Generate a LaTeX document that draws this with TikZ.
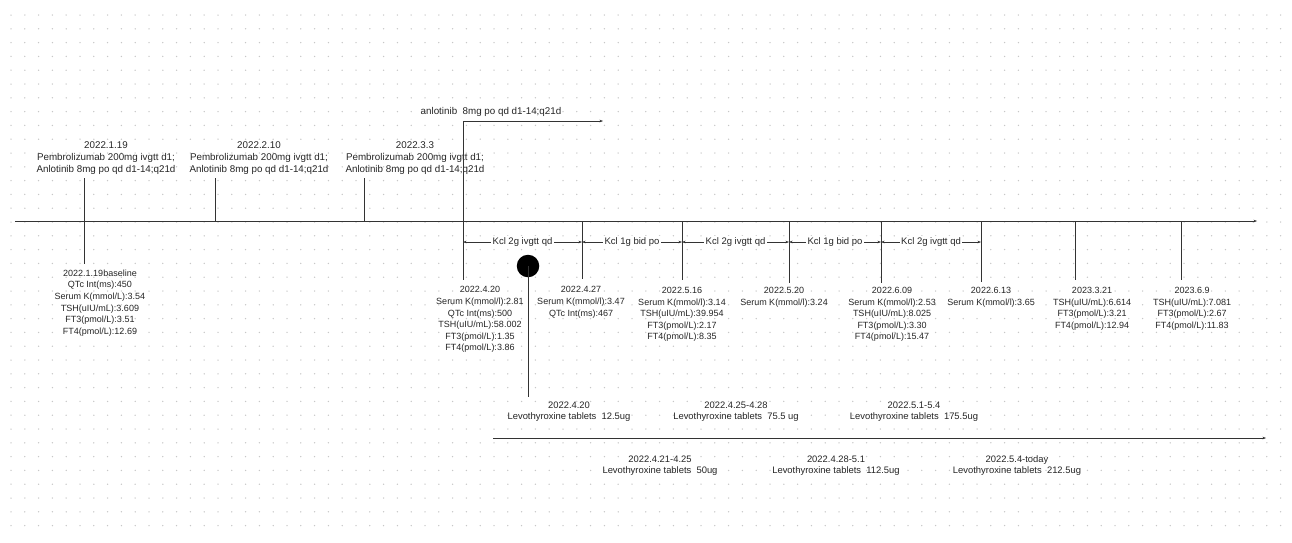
\documentclass[tikz,border=0pt]{standalone}
\usepackage{fontspec}
\setmainfont{Liberation Sans}
\usetikzlibrary{arrows.meta}
\begin{document}
\begin{tikzpicture}[x=1pt,y=-1pt,
  ln/.style={draw=black!80, line width=0.6pt},
  tipend/.style={-{Stealth[length=3.5pt,width=2.6pt]}},
  tipboth/.style={{Stealth[length=3.5pt,width=2.6pt]}-{Stealth[length=3.5pt,width=2.6pt]}},
  toptxt/.style={align=center, font=\fontsize{9.8}{12}\selectfont, inner sep=0pt, text=black!85},
  dat/.style={align=center, font=\fontsize{9}{11.6}\selectfont, inner sep=0pt, anchor=north, text=black!85},
  kcl/.style={font=\fontsize{9.5}{11}\selectfont, fill=white, inner sep=1.5pt, text=black!85},
  levo/.style={align=center, font=\fontsize{9.4}{11.2}\selectfont, inner sep=0pt, text=black!85},
]
\useasboundingbox (0,0) rectangle (1292,542);
\fill[white] (0,0) rectangle (1292,542);
\foreach \i in {0,...,92} \foreach \j in {0,...,37} \fill[black!22] (11+13.8*\i, 15+13.8*\j) circle (0.75);

% main axis
\coordinate (axL) at (15,221);
\coordinate (axR) at (1257,221);
\draw[ln,tipend] (axL) -- (axR);

% top treatment blocks
\node[toptxt] (t1) at (106,158) {2022.1.19\\Pembrolizumab 200mg ivgtt d1;\\Anlotinib 8mg po qd d1-14;q21d};
\node[toptxt] (t2) at (259,158) {2022.2.10\\Pembrolizumab 200mg ivgtt d1;\\Anlotinib 8mg po qd d1-14;q21d};
\node[toptxt] (t3) at (415,158) {2022.3.3\\Pembrolizumab 200mg ivgtt d1;\\Anlotinib 8mg po qd d1-14;q21d};
\coordinate (k1a) at (84,178); \coordinate (k1b) at (84,264);
\coordinate (k2a) at (215,178); \coordinate (k2b) at (215,221);
\coordinate (k3a) at (364,178); \coordinate (k3b) at (364,221);
\draw[ln] (k1a) -- (k1b);
\draw[ln] (k2a) -- (k2b);
\draw[ln] (k3a) -- (k3b);

% anlotinib
\coordinate (anT) at (463,121);
\coordinate (anR) at (603,121);
\coordinate (anB) at (463,280);
\node[toptxt] (anl) at (491,112) {anlotinib\ \ 8mg po qd d1-14;q21d};
\draw[ln] (anT) -- (anB);
\draw[ln,tipend] (anT) -- (anR);

% lower ticks
\foreach \n/\x/\b in {a/582/279, b/682/280, c/789/283, d/881/283, e/981/282, f/1075/280, g/1181/280}{
  \coordinate (u\n) at (\x,221);
  \coordinate (l\n) at (\x,\b);
  \draw[ln] (u\n) -- (l\n);
}

% Kcl segments
\foreach \n/\xa/\xb/\t in {1/463/582/{Kcl 2g ivgtt qd}, 2/582/682/{Kcl 1g bid po}, 3/682/789/{Kcl 2g ivgtt qd}, 4/789/881/{Kcl 1g bid po}, 5/881/981/{Kcl 2g ivgtt qd}}{
  \coordinate (ka\n) at (\xa,242);
  \coordinate (kb\n) at (\xb,242);
  \draw[ln,tipboth] (ka\n) -- (kb\n) node[kcl,midway] (kt\n) {\t};
}

% data blocks
\node[dat] (d0) at (100,269.5) {2022.1.19baseline\\QTc Int(ms):450\\Serum K(mmol/L):3.54\\TSH(uIU/mL):3.609\\FT3(pmol/L):3.51\\FT4(pmol/L):12.69};
\node[dat] (d1) at (480,286.5) {2022.4.20\\Serum K(mmol/l):2.81\\QTc Int(ms):500\\TSH(uIU/mL):58.002\\FT3(pmol/L):1.35\\FT4(pmol/L):3.86};
\node[dat] (d2) at (581,286.5) {2022.4.27\\Serum K(mmol/l):3.47\\QTc Int(ms):467};
\node[dat] (d3) at (682,287) {2022.5.16\\Serum K(mmol/l):3.14\\TSH(uIU/mL):39.954\\FT3(pmol/L):2.17\\FT4(pmol/L):8.35};
\node[dat] (d4) at (784,287) {2022.5.20\\Serum K(mmol/l):3.24};
\node[dat] (d5) at (892,287) {2022.6.09\\Serum K(mmol/l):2.53\\TSH(uIU/mL):8.025\\FT3(pmol/L):3.30\\FT4(pmol/L):15.47};
\node[dat] (d6) at (991,287) {2022.6.13\\Serum K(mmol/l):3.65};
\node[dat] (d7) at (1092,287) {2023.3.21\\TSH(uIU/mL):6.614\\FT3(pmol/L):3.21\\FT4(pmol/L):12.94};
\node[dat] (d8) at (1192,287) {2023.6.9\\TSH(uIU/mL):7.081\\FT3(pmol/L):2.67\\FT4(pmol/L):11.83};

% black dot and levothyroxine
\node[circle, fill=black, inner sep=0pt, minimum size=22.5pt] (dot) at (528,266) {};
\coordinate (dotB) at (528,397);
\draw[ln] (dot.center) -- (dotB);
\coordinate (bL) at (493,438);
\coordinate (bR) at (1266,438);
\draw[ln,tipend] (bL) -- (bR);

\node[levo] (v1) at (569,411.5) {2022.4.20\\Levothyroxine tablets\ \ 12.5ug};
\node[levo] (v2) at (736,411.5) {2022.4.25-4.28\\Levothyroxine tablets\ \ 75.5 ug};
\node[levo] (v3) at (914,411.5) {2022.5.1-5.4\\Levothyroxine tablets\ \ 175.5ug};
\node[levo] (v4) at (660,465.5) {2022.4.21-4.25\\Levothyroxine tablets\ \ 50ug};
\node[levo] (v5) at (836,465.5) {2022.4.28-5.1\\Levothyroxine tablets\ \ 112.5ug};
\node[levo] (v6) at (1017,465.5) {2022.5.4-today\\Levothyroxine tablets\ \ 212.5ug};
\end{tikzpicture}
\end{document}
